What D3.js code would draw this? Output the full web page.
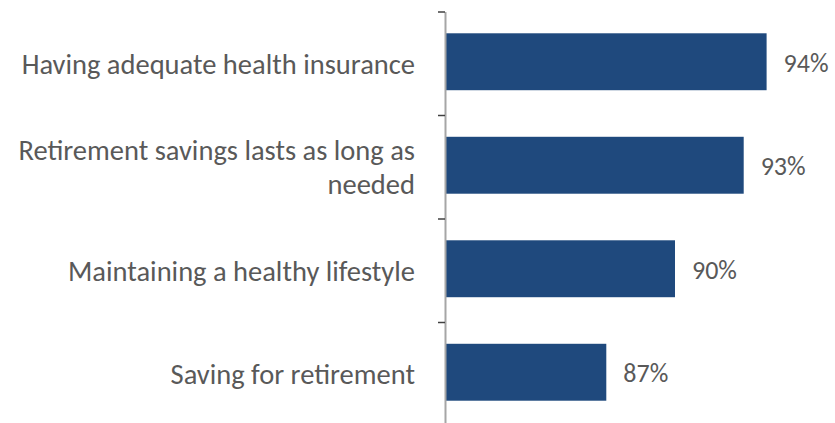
<!DOCTYPE html>
<html>
<head>
<meta charset="utf-8">
<script src="https://cdn.jsdelivr.net/npm/d3@7"></script>
<style>
  html, body { margin: 0; padding: 0; background: #fff; }
  svg { display: block; }
  text { font-family: Calibri, Carlito, Lato, "Open Sans", sans-serif; fill: #595959; }
</style>
</head>
<body>
<svg id="chart" width="835" height="423"></svg>
<script>
// Share of respondents naming each item as important
const categories = [
  ["Having adequate health insurance"],
  ["Retirement savings lasts as long as", "needed"],
  ["Maintaining a healthy lifestyle"],
  ["Saving for retirement"]
];
const values = [94, 93, 90, 87];
const valueLabels = ["94%", "93%", "90%", "87%"];

const svg = d3.select("#chart");
const W = 835, H = 423;
const axisX = 446;
const labelSize = 28.5;
const valueSize = 26;

const keys = categories.map((c, i) => i);

// Value axis starts at 80%
const x = d3.scaleLinear().domain([80, 100]).range([axisX, axisX + 458]);
const y = d3.scaleBand().domain(keys).range([10, 424])
  .paddingInner(0.45).paddingOuter(0.225);

const gap = y.step() * 0.45;

// Bars
svg.append("g").selectAll("rect")
  .data(values)
  .join("rect")
  .attr("x", x(80))
  .attr("y", (d, i) => y(i))
  .attr("width", d => x(d) - x(80))
  .attr("height", y.bandwidth())
  .attr("fill", "#1F497D");

// Category axis line
svg.append("line")
  .attr("x1", axisX - 0.5).attr("x2", axisX - 0.5)
  .attr("y1", y(0) - gap / 2 + 2).attr("y2", H + 5)
  .attr("stroke", "#a6a6a6").attr("stroke-width", 2);

// Tick marks between categories
const tickYs = keys.map(i => y(i) - gap / 2 + 2).concat([y(keys.length - 1) + y.bandwidth() + gap / 2 + 2]);
svg.append("g").selectAll("line")
  .data(tickYs)
  .join("line")
  .attr("x1", axisX - 8).attr("x2", axisX - 1)
  .attr("y1", d => d).attr("y2", d => d)
  .attr("stroke", "#404040").attr("stroke-width", 1.5);

// Category labels, right-aligned against the axis
const lineH = 34;
const lab = svg.append("g").selectAll("text")
  .data(categories)
  .join("text")
  .attr("text-anchor", "end")
  .attr("font-size", labelSize)
  .attr("x", 415)
  .attr("y", (d, i) => y(i) + y.bandwidth() / 2 + 10 - (d.length - 1) * lineH / 2 + 2);
lab.selectAll("tspan")
  .data(d => d)
  .join("tspan")
  .attr("x", 415)
  .attr("dy", (d, j) => j === 0 ? 0 : lineH)
  .text(d => d);

// Value labels
svg.append("g").selectAll("text")
  .data(values)
  .join("text")
  .attr("font-size", valueSize)
  .attr("x", d => x(d) + 17)
  .attr("y", (d, i) => y(i) + y.bandwidth() / 2 + 10)
  .text((d, i) => valueLabels[i]);
</script>
</body>
</html>
